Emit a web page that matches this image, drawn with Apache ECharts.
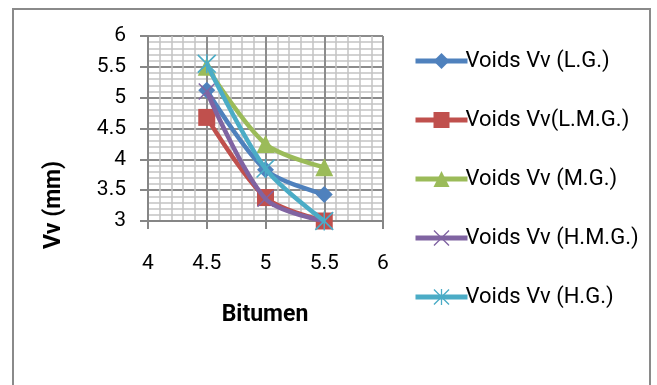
<!DOCTYPE html>
<html>
<head>
<meta charset="utf-8">
<script src="https://cdn.jsdelivr.net/npm/echarts@6/dist/echarts.min.js"></script>
<style>
  html, body { margin: 0; padding: 0; background: #fff; }
  #chart { width: 657px; height: 385px; }
</style>
</head>
<body>
<div id="chart"></div>
<script>
// Bitumen content (x) and the matching voids values Vv for each gradation
const bitumen = [4.5, 5, 5.5];
const xTicks = [4, 4.5, 5, 5.5, 6];
const yTicks = [3, 3.5, 4, 4.5, 5, 5.5, 6];

const vvLG  = [5.12, 3.83, 3.43];
const vvLMG = [4.68, 3.38, 3.0];
const vvMG  = [5.5, 4.25, 3.87];
const vvHMG = [5.1, 3.36, 3.0];
const vvHG  = [5.55, 3.85, 3.0];

const seriesNames = [
  'Voids Vv (L.G.)',
  'Voids Vv(L.M.G.)',
  'Voids Vv (M.G.)',
  'Voids Vv (H.M.G.)',
  'Voids Vv (H.G.)'
];
const seriesValues = [vvLG, vvLMG, vvMG, vvHMG, vvHG];
const colors = ['#4F81BD', '#C0504D', '#9BBB59', '#8064A2', '#4BACC6'];

// thin-stroke cross and asterisk markers built as filled paths
const crossPath = 'path://M0,1.2L1.2,0L20,18.8L18.8,20Z M18.8,0L20,1.2L1.2,20L0,18.8Z';
const starPath = 'path://M0,1.2L1.2,0L20,18.8L18.8,20Z M18.8,0L20,1.2L1.2,20L0,18.8Z M9.2,0L10.8,0L10.8,20L9.2,20Z';
const symbols = ['diamond', 'rect', 'triangle', crossPath, starPath];
const symbolSizes = [17, 17, 18, 17, 19];

const FONT = 'Roboto';

const series = seriesNames.map((name, i) => ({
  name: name,
  type: 'line',
  smooth: 0.3,
  data: bitumen.map((b, j) => [b, seriesValues[i][j]]),
  symbol: symbols[i],
  symbolSize: symbolSizes[i],
  symbolKeepAspect: true,
  showAllSymbol: true,
  lineStyle: { width: 4.5, color: colors[i] },
  itemStyle: { color: colors[i], borderWidth: 0 },
  emphasis: { disabled: true },
  z: 2 + i
}));

const chart = echarts.init(document.getElementById('chart'), null, { renderer: 'canvas' });
chart.setOption({
  animation: false,
  backgroundColor: '#ffffff',
  color: colors,
  grid: { left: 148, right: 274, top: 36, bottom: 164, containLabel: false },
  xAxis: {
    type: 'value',
    min: xTicks[0],
    max: xTicks[xTicks.length - 1],
    interval: 0.5,
    axisLine: { show: true, onZero: false, lineStyle: { color: '#868686', width: 2 } },
    axisTick: { show: true, length: 8, lineStyle: { color: '#868686', width: 2 } },
    axisLabel: { margin: 32, fontFamily: FONT, fontSize: 21, color: '#000' },
    splitLine: { show: true, lineStyle: { color: '#8c8c8c', width: 2 } },
    minorTick: { show: false, splitNumber: 5 },
    minorSplitLine: { show: true, lineStyle: { color: '#c4c4c4', width: 1.5 } }
  },
  yAxis: {
    type: 'value',
    min: yTicks[0],
    max: yTicks[yTicks.length - 1],
    interval: 0.5,
    axisLine: { show: true, onZero: false, lineStyle: { color: '#868686', width: 2 } },
    axisTick: { show: true, length: 8, lineStyle: { color: '#868686', width: 2 } },
    axisLabel: { margin: 22, fontFamily: FONT, fontSize: 21, color: '#000' },
    splitLine: { show: true, lineStyle: { color: '#8c8c8c', width: 2 } },
    minorTick: { show: false, splitNumber: 5 },
    minorSplitLine: { show: true, lineStyle: { color: '#c4c4c4', width: 1.5 } }
  },
  legend: {
    orient: 'vertical',
    left: 408,
    top: 45,
    itemWidth: 52,
    itemHeight: 20,
    itemGap: 37,
    selectedMode: false,
    lineStyle: { width: 5 },
    textStyle: { fontFamily: FONT, fontSize: 22, color: '#000', padding: [0, 0, 0, -7] },
    data: seriesNames
  },
  graphic: [
    {
      type: 'rect',
      shape: { x: 13, y: 9, width: 637, height: 420 },
      style: { fill: 'none', stroke: '#8a8a8a', lineWidth: 2 },
      silent: true
    },
    {
      type: 'text',
      x: 54, y: 205,
      rotation: Math.PI / 2,
      style: {
        text: 'Vv (mm)', fontFamily: FONT, fontWeight: 'bold', fontSize: 23,
        fill: '#000', align: 'center', verticalAlign: 'middle'
      },
      silent: true
    },
    {
      type: 'text',
      x: 265, y: 315,
      style: {
        text: 'Bitumen', fontFamily: FONT, fontWeight: 'bold', fontSize: 23,
        fill: '#000', align: 'center', verticalAlign: 'middle'
      },
      silent: true
    }
  ],
  series: series
});
</script>
</body>
</html>
